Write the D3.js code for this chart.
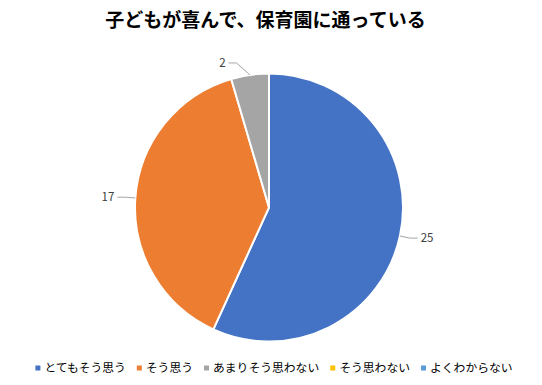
<!DOCTYPE html>
<html>
  <head>
    <meta charset="utf-8">
    <style>
      body { margin: 0; background: #fff; }
      svg { font-family: "Noto Sans CJK JP", sans-serif; }
    </style>
    <script src="https://d3js.org/d3.v7.min.js"></script>
    <title>pie</title>
  </head>
  <body>
    <div id="my_dataviz"></div>
    <script>
    // dati
    var TITLE = "子どもが喜んで、保育園に通っている"
    var categories = ["とてもそう思う", "そう思う", "あまりそう思わない", "そう思わない", "よくわからない"]
    var values = [25, 17, 2, 0, 0]
    var colors = ["#4472C4", "#ED7D31", "#A5A5A5", "#FFC000", "#5B9BD5"]

    var width = 542, height = 385
    var cx = 269, cy = 207.5, radius = 134

    var svg = d3.select("#my_dataviz")
      .append("svg")
        .attr("width", width)
        .attr("height", height)

    // titolo
    svg.append("text")
      .attr("x", 265.5)
      .attr("y", 27)
      .attr("text-anchor", "middle")
      .style("font-size", "19px")
      .style("font-weight", "bold")
      .style("fill", "#000")
      .text(TITLE)

    var data = categories.map(function(c, i) { return {name: c, value: values[i], color: colors[i]} })

    var pie = d3.pie()
      .sort(null)
      .value(function(d) { return d.value })

    var arcs = pie(data)

    var arc = d3.arc().innerRadius(0).outerRadius(radius)
    var edgeArc = d3.arc().innerRadius(radius).outerRadius(radius)
    var elbowArc = d3.arc().innerRadius(radius + 10).outerRadius(radius + 10)

    var g = svg.append("g").attr("transform", "translate(" + cx + "," + cy + ")")

    g.selectAll("path.slice")
      .data(arcs.filter(function(d) { return d.value > 0 }))
      .enter().append("path")
        .attr("class", "slice")
        .attr("d", arc)
        .style("fill", function(d) { return d.data.color })
        .style("stroke", "#fff")
        .style("stroke-width", 2)

    // etichette con linee guida
    var labeled = arcs.filter(function(d) { return d.value > 0 })
    labeled.forEach(function(d) {
      var p0 = edgeArc.centroid(d)
      var p1 = elbowArc.centroid(d)
      var side = p1[0] >= 0 ? 1 : -1
      // piccole fette: linea piu lunga verso l'esterno
      if (d.endAngle - d.startAngle < 0.5) p1 = [p1[0] - 12, p1[1] - 2]
      var p2 = [p1[0] + side * 8, p1[1]]
      g.append("polyline")
        .attr("points", [p0, p1, p2].map(function(p) { return p.join(",") }).join(" "))
        .style("fill", "none")
        .style("stroke", "#A6A6A6")
        .style("stroke-width", 1)
      g.append("text")
        .attr("x", p2[0] + side * 3)
        .attr("y", p2[1])
        .attr("dy", "0.35em")
        .attr("text-anchor", side > 0 ? "start" : "end")
        .style("font-size", "11.5px")
        .style("fill", "#404040")
        .text(d.value)
    })

    // legenda
    var legend = svg.append("g")
    var lx = 0
    data.forEach(function(d) {
      var item = legend.append("g")
      item.append("rect")
        .attr("x", 0).attr("y", -2.5)
        .attr("width", 5).attr("height", 5)
        .style("fill", d.color)
      var t = item.append("text")
        .attr("x", 9)
        .attr("dy", "0.35em")
        .style("font-size", "11.8px")
        .style("fill", "#000")
        .text(d.name)
      var w = 9 + t.node().getComputedTextLength()
      item.attr("transform", "translate(" + lx + ",0)")
      lx += w + 11
    })
    lx -= 11
    legend.attr("transform", "translate(" + ((width - lx) / 2 + 3) + ",368)")
    </script>
  </body>
</html>
